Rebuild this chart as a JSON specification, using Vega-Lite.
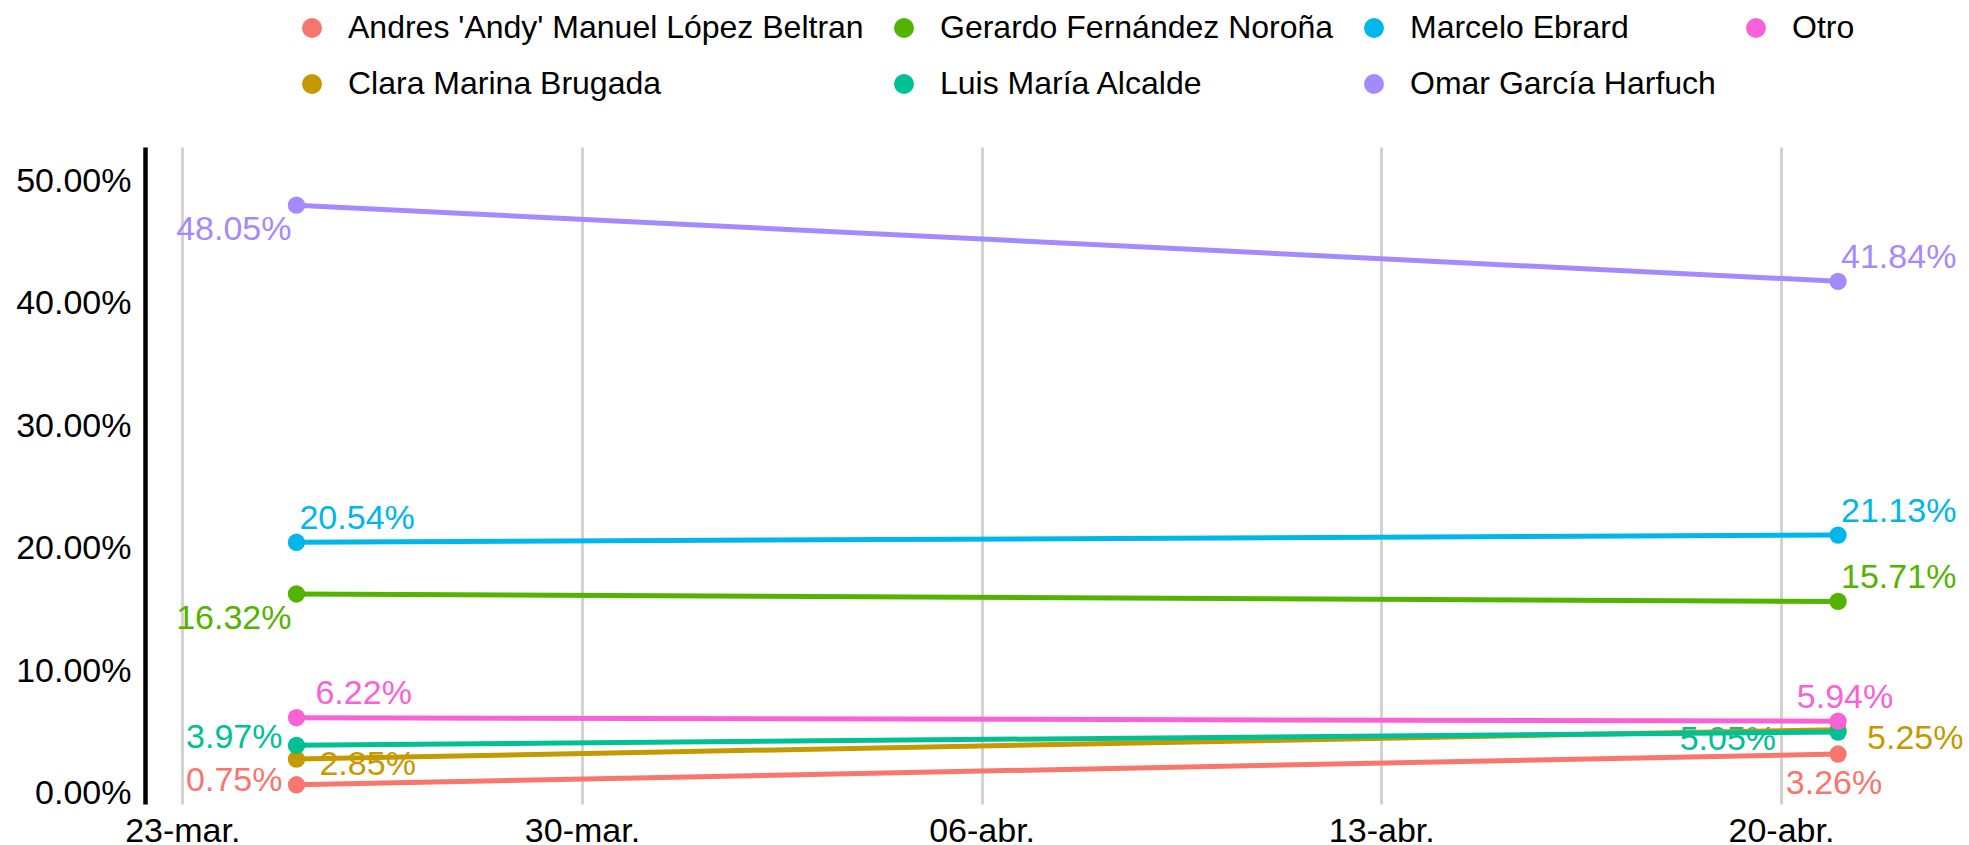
{
  "$schema": "https://vega.github.io/schema/vega-lite/v6.json",
  "width": 1812,
  "height": 657,
  "autosize": {"type": "none"},
  "padding": {"left": 145, "top": 147, "right": 12, "bottom": 41},
  "background": "white",
  "config": {"view": {"stroke": null}, "font": "Liberation Sans"},
  "data": {
    "values": [
      {"candidato": "Andres 'Andy' Manuel López Beltran", "fecha": "2025-03-25", "pct": 0.0075},
      {"candidato": "Andres 'Andy' Manuel López Beltran", "fecha": "2025-04-21", "pct": 0.0326},
      {"candidato": "Clara Marina Brugada", "fecha": "2025-03-25", "pct": 0.0285},
      {"candidato": "Clara Marina Brugada", "fecha": "2025-04-21", "pct": 0.0525},
      {"candidato": "Gerardo Fernández Noroña", "fecha": "2025-03-25", "pct": 0.1632},
      {"candidato": "Gerardo Fernández Noroña", "fecha": "2025-04-21", "pct": 0.1571},
      {"candidato": "Luis María Alcalde", "fecha": "2025-03-25", "pct": 0.0397},
      {"candidato": "Luis María Alcalde", "fecha": "2025-04-21", "pct": 0.0505},
      {"candidato": "Marcelo Ebrard", "fecha": "2025-03-25", "pct": 0.2054},
      {"candidato": "Marcelo Ebrard", "fecha": "2025-04-21", "pct": 0.2113},
      {"candidato": "Omar García Harfuch", "fecha": "2025-03-25", "pct": 0.4805},
      {"candidato": "Omar García Harfuch", "fecha": "2025-04-21", "pct": 0.4184},
      {"candidato": "Otro", "fecha": "2025-03-25", "pct": 0.0622},
      {"candidato": "Otro", "fecha": "2025-04-21", "pct": 0.0594}
    ]
  },
  "encoding": {
    "x": {
      "field": "fecha",
      "type": "temporal",
      "title": null,
      "scale": {
        "type": "utc",
        "domain": [
          {"year": 2025, "month": 3, "date": 22, "hours": 8, "minutes": 20, "utc": true},
          {"year": 2025, "month": 4, "date": 23, "hours": 2, "utc": true}
        ]
      },
      "axis": {
        "values": [
          {"year": 2025, "month": 3, "date": 23, "utc": true},
          {"year": 2025, "month": 3, "date": 30, "utc": true},
          {"year": 2025, "month": 4, "date": 6, "utc": true},
          {"year": 2025, "month": 4, "date": 13, "utc": true},
          {"year": 2025, "month": 4, "date": 20, "utc": true}
        ],
        "labelExpr": "utcFormat(datum.value, '%d') + (utcFormat(datum.value, '%m') == '03' ? '-mar.' : '-abr.')",
        "domain": false,
        "ticks": false,
        "tickSize": 0,
        "grid": true,
        "gridColor": "#D3D3D3",
        "gridWidth": 3,
        "labelFontSize": 34,
        "labelColor": "#000000",
        "labelPadding": 10,
        "labelFont": "Liberation Sans"
      }
    },
    "y": {
      "field": "pct",
      "type": "quantitative",
      "title": null,
      "scale": {"domain": [-0.0082, 0.528], "nice": false, "zero": false},
      "axis": {
        "values": [0, 0.1, 0.2, 0.3, 0.4, 0.5],
        "format": ".2%",
        "grid": false,
        "ticks": false,
        "tickSize": 0,
        "domain": true,
        "domainColor": "#000000",
        "domainWidth": 4.5,
        "labelFontSize": 34,
        "labelColor": "#000000",
        "labelPadding": 14,
        "labelFont": "Liberation Sans"
      }
    },
    "color": {
      "field": "candidato",
      "type": "nominal",
      "scale": {
        "domain": ["Andres 'Andy' Manuel López Beltran", "Gerardo Fernández Noroña", "Marcelo Ebrard", "Otro", "Clara Marina Brugada", "Luis María Alcalde", "Omar García Harfuch"],
        "range": ["#F8766D", "#53B400", "#00B6EB", "#FB61D7", "#C49A00", "#00C094", "#A58AFF"]
      },
      "legend": {
        "orient": "none",
        "legendX": 151,
        "legendY": -135,
        "direction": "horizontal",
        "columns": 4,
        "title": null,
        "symbolType": "circle",
        "symbolSize": 400,
        "symbolStrokeWidth": 0,
        "symbolOpacity": 1,
        "labelFontSize": 32,
        "labelFont": "Liberation Sans",
        "labelColor": "#000000",
        "labelOffset": 20,
        "labelLimit": 1000,
        "columnPadding": 24,
        "rowPadding": 24,
        "encode": {
          "symbols": {
            "update": {
              "fill": {"scale": "color", "field": "value"},
              "stroke": {"value": "transparent"},
              "opacity": {"value": 1},
              "fillOpacity": {"value": 1}
            }
          }
        }
      }
    }
  },
  "layer": [
    {
      "transform": [{"filter": "indexof([0.4805, 0.1632], datum.pct) >= 0"}],
      "mark": {"type": "text", "align": "right", "baseline": "middle", "dx": -5, "dy": 25, "fontSize": 34, "font": "Liberation Sans"},
      "encoding": {"text": {"field": "pct", "type": "quantitative", "format": ".2%"}}
    },
    {
      "transform": [{"filter": "indexof([0.4184, 0.2054, 0.2113, 0.1571], datum.pct) >= 0"}],
      "mark": {"type": "text", "align": "left", "baseline": "middle", "dx": 3, "dy": -23, "fontSize": 34, "font": "Liberation Sans"},
      "encoding": {"text": {"field": "pct", "type": "quantitative", "format": ".2%"}}
    },
    {
      "transform": [{"filter": "datum.pct == 0.0622"}],
      "mark": {"type": "text", "align": "left", "baseline": "middle", "dx": 19, "dy": -24, "fontSize": 34, "font": "Liberation Sans"},
      "encoding": {"text": {"field": "pct", "type": "quantitative", "format": ".2%"}}
    },
    {
      "transform": [{"filter": "datum.pct == 0.0594"}],
      "mark": {"type": "text", "align": "center", "baseline": "middle", "dx": 7, "dy": -23, "fontSize": 34, "font": "Liberation Sans"},
      "encoding": {"text": {"field": "pct", "type": "quantitative", "format": ".2%"}}
    },
    {
      "transform": [{"filter": "datum.pct == 0.0397"}],
      "mark": {"type": "text", "align": "right", "baseline": "middle", "dx": -14, "dy": -7, "fontSize": 34, "font": "Liberation Sans"},
      "encoding": {"text": {"field": "pct", "type": "quantitative", "format": ".2%"}}
    },
    {
      "transform": [{"filter": "datum.pct == 0.0075"}],
      "mark": {"type": "text", "align": "right", "baseline": "middle", "dx": -14, "dy": -4, "fontSize": 34, "font": "Liberation Sans"},
      "encoding": {"text": {"field": "pct", "type": "quantitative", "format": ".2%"}}
    },
    {
      "transform": [{"filter": "datum.pct == 0.0505"}],
      "mark": {"type": "text", "align": "right", "baseline": "middle", "dx": -62, "dy": 8, "fontSize": 34, "font": "Liberation Sans"},
      "encoding": {"text": {"field": "pct", "type": "quantitative", "format": ".2%"}}
    },
    {
      "transform": [{"filter": "datum.pct == 0.0525"}],
      "mark": {"type": "text", "align": "left", "baseline": "middle", "dx": 29, "dy": 9, "fontSize": 34, "font": "Liberation Sans"},
      "encoding": {"text": {"field": "pct", "type": "quantitative", "format": ".2%"}}
    },
    {
      "transform": [{"filter": "datum.pct == 0.0285"}],
      "mark": {"type": "text", "align": "left", "baseline": "middle", "dx": 23, "dy": 6, "fontSize": 34, "font": "Liberation Sans"},
      "encoding": {"text": {"field": "pct", "type": "quantitative", "format": ".2%"}}
    },
    {
      "transform": [{"filter": "datum.pct == 0.0326"}],
      "mark": {"type": "text", "align": "center", "baseline": "middle", "dx": -4, "dy": 30, "fontSize": 34, "font": "Liberation Sans"},
      "encoding": {"text": {"field": "pct", "type": "quantitative", "format": ".2%"}}
    },
    {
      "mark": {"type": "line", "strokeWidth": 5},
      "encoding": {"detail": {"field": "candidato"}}
    },
    {
      "mark": {"type": "point", "filled": true, "opacity": 1, "size": 300}
    }
  ]
}
